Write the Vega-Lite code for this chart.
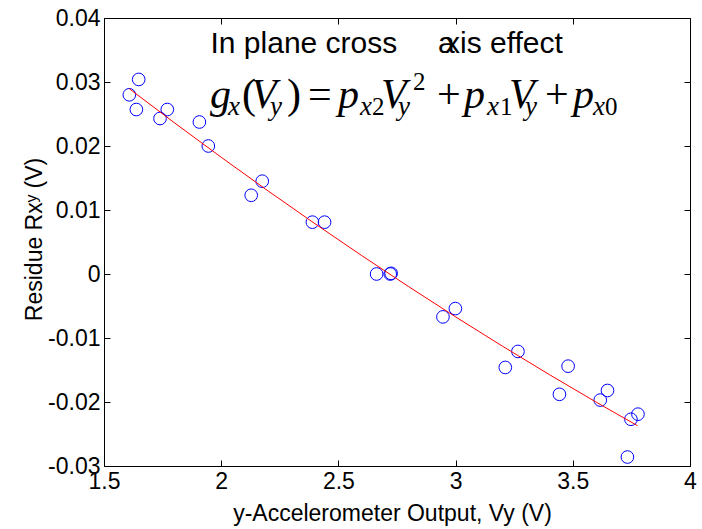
{
  "$schema": "https://vega.github.io/schema/vega-lite/v6.json",
  "autosize": {"type": "none"},
  "padding": {"left": 104, "top": 18, "right": 12, "bottom": 63},
  "width": 586,
  "height": 448,
  "background": "white",
  "config": {
    "view": {"stroke": null},
    "axis": {
      "grid": false,
      "domainColor": "black",
      "domainWidth": 1,
      "tickColor": "black",
      "tickWidth": 1,
      "tickSize": -6,
      "labelFlush": false,
      "labelOverlap": false,
      "labelColor": "black",
      "titleColor": "black",
      "labelFont": "Liberation Sans",
      "titleFont": "Liberation Sans",
      "labelFontSize": 23,
      "titleFontSize": 23,
      "titleFontWeight": "normal",
      "labelPadding": 10
    }
  },
  "datasets": {
    "points": [
      {"vy": 1.608, "r": 0.0280},
      {"vy": 1.648, "r": 0.0304},
      {"vy": 1.638, "r": 0.0257},
      {"vy": 1.739, "r": 0.0243},
      {"vy": 1.770, "r": 0.0257},
      {"vy": 1.907, "r": 0.02375},
      {"vy": 1.945, "r": 0.0200},
      {"vy": 2.128, "r": 0.0123},
      {"vy": 2.175, "r": 0.0145},
      {"vy": 2.389, "r": 0.0081},
      {"vy": 2.441, "r": 0.0081},
      {"vy": 2.663, "r": 0.0000},
      {"vy": 2.721, "r": 0.0000},
      {"vy": 2.725, "r": 0.0001},
      {"vy": 2.946, "r": -0.0067},
      {"vy": 2.999, "r": -0.0054},
      {"vy": 3.212, "r": -0.0146},
      {"vy": 3.266, "r": -0.0121},
      {"vy": 3.443, "r": -0.0188},
      {"vy": 3.480, "r": -0.0144},
      {"vy": 3.617, "r": -0.0197},
      {"vy": 3.648, "r": -0.0182},
      {"vy": 3.733, "r": -0.0286},
      {"vy": 3.748, "r": -0.0227},
      {"vy": 3.778, "r": -0.0219}
    ],
    "fit": [
      {"vy": 1.608, "r": 0.02895},
      {"vy": 1.8, "r": 0.02364},
      {"vy": 2.0, "r": 0.01824},
      {"vy": 2.2, "r": 0.01298},
      {"vy": 2.4, "r": 0.00786},
      {"vy": 2.6, "r": 0.00287},
      {"vy": 2.8, "r": -0.00198},
      {"vy": 3.0, "r": -0.00670},
      {"vy": 3.2, "r": -0.01128},
      {"vy": 3.4, "r": -0.01572},
      {"vy": 3.6, "r": -0.02003},
      {"vy": 3.776, "r": -0.0237}
    ],
    "title": [
      {"vy": 1.9544, "r": 0.034484, "t": "In plane cross"},
      {"vy": 2.9249, "r": 0.034484, "t": "a"},
      {"vy": 2.9548, "r": 0.034484, "t": "xis effect"}
    ],
    "eqItal": [
      {"vy": 1.9522, "r": 0.025938, "t": "g"},
      {"vy": 2.1271, "r": 0.025938, "t": "V"},
      {"vy": 2.4983, "r": 0.025938, "t": "p"},
      {"vy": 2.6817, "r": 0.025938, "t": "V"},
      {"vy": 3.0358, "r": 0.025938, "t": "p"},
      {"vy": 3.2278, "r": 0.025938, "t": "V"},
      {"vy": 3.5009, "r": 0.025938, "t": "p"}
    ],
    "eqRoman": [
      {"vy": 2.0887, "r": 0.025938, "t": "("},
      {"vy": 2.2807, "r": 0.025938, "t": ")"},
      {"vy": 2.3703, "r": 0.025938, "t": "="},
      {"vy": 2.9206, "r": 0.025938, "t": "+"},
      {"vy": 3.3814, "r": 0.025938, "t": "+"}
    ],
    "subItal": [
      {"vy": 2.0290, "r": 0.024844, "t": "x"},
      {"vy": 2.2082, "r": 0.024844, "t": "y"},
      {"vy": 2.5922, "r": 0.024844, "t": "x"},
      {"vy": 2.7543, "r": 0.024844, "t": "y"},
      {"vy": 3.1340, "r": 0.024844, "t": "x"},
      {"vy": 3.2961, "r": 0.024844, "t": "y"},
      {"vy": 3.5862, "r": 0.024844, "t": "x"}
    ],
    "subRoman": [
      {"vy": 2.6433, "r": 0.024844, "t": "2"},
      {"vy": 3.1894, "r": 0.024844, "t": "1"},
      {"vy": 3.6374, "r": 0.024844, "t": "0"},
      {"vy": 2.8183, "r": 0.02875, "t": "2"}
    ]
  },
  "layer": [
    {
      "data": {"name": "points"},
      "mark": {"type": "point", "shape": "circle", "filled": false, "stroke": "#0000ff", "strokeWidth": 1, "size": 160, "opacity": 1},
      "encoding": {
        "x": {"field": "vy", "type": "quantitative", "scale": {"domain": [1.5, 4], "nice": false, "zero": false},
          "axis": {"orient": "bottom", "values": [1.5, 2, 2.5, 3, 3.5, 4], "labelExpr": "'' + datum.value", "title": "y-Accelerometer Output, Vy (V)", "titleBaseline": "alphabetic", "titleY": 54, "titleX": 288}},
        "y": {"field": "r", "type": "quantitative", "scale": {"domain": [-0.03, 0.04], "nice": false, "zero": false},
          "axis": {"orient": "left", "values": [-0.03, -0.02, -0.01, 0, 0.01, 0.02, 0.03, 0.04], "labelExpr": "'' + datum.value", "title": "Residue Rxʸ (V)", "titleBaseline": "alphabetic", "titleX": -63, "titleY": 221, "titleAngle": -90}}
      }
    },
    {
      "data": {"name": "fit"},
      "mark": {"type": "line", "color": "#ff0000", "strokeWidth": 1},
      "encoding": {
        "x": {"field": "vy", "type": "quantitative", "scale": {"domain": [1.5, 4], "nice": false, "zero": false},
          "axis": {"orient": "top", "values": [1.5, 2, 2.5, 3, 3.5, 4], "labels": false, "title": null}},
        "y": {"field": "r", "type": "quantitative", "scale": {"domain": [-0.03, 0.04], "nice": false, "zero": false},
          "axis": {"orient": "right", "values": [-0.03, -0.02, -0.01, 0, 0.01, 0.02, 0.03, 0.04], "labels": false, "title": null}}
      }
    },
    {
      "data": {"name": "title"},
      "mark": {"type": "text", "font": "Liberation Sans", "fontSize": 30, "align": "left", "baseline": "alphabetic", "color": "black"},
      "encoding": {
        "x": {"field": "vy", "type": "quantitative", "scale": {"domain": [1.5, 4], "nice": false, "zero": false}, "axis": null},
        "y": {"field": "r", "type": "quantitative", "scale": {"domain": [-0.03, 0.04], "nice": false, "zero": false}, "axis": null},
        "text": {"field": "t"}
      }
    },
    {
      "data": {"name": "eqItal"},
      "mark": {"type": "text", "font": "Liberation Serif", "fontSize": 42, "fontStyle": "italic", "align": "left", "baseline": "alphabetic", "color": "black"},
      "encoding": {
        "x": {"field": "vy", "type": "quantitative", "scale": {"domain": [1.5, 4], "nice": false, "zero": false}, "axis": null},
        "y": {"field": "r", "type": "quantitative", "scale": {"domain": [-0.03, 0.04], "nice": false, "zero": false}, "axis": null},
        "text": {"field": "t"}
      }
    },
    {
      "data": {"name": "eqRoman"},
      "mark": {"type": "text", "font": "Liberation Serif", "fontSize": 42, "fontStyle": "normal", "align": "left", "baseline": "alphabetic", "color": "black"},
      "encoding": {
        "x": {"field": "vy", "type": "quantitative", "scale": {"domain": [1.5, 4], "nice": false, "zero": false}, "axis": null},
        "y": {"field": "r", "type": "quantitative", "scale": {"domain": [-0.03, 0.04], "nice": false, "zero": false}, "axis": null},
        "text": {"field": "t"}
      }
    },
    {
      "data": {"name": "subItal"},
      "mark": {"type": "text", "font": "Liberation Serif", "fontSize": 27, "fontStyle": "italic", "align": "left", "baseline": "alphabetic", "color": "black"},
      "encoding": {
        "x": {"field": "vy", "type": "quantitative", "scale": {"domain": [1.5, 4], "nice": false, "zero": false}, "axis": null},
        "y": {"field": "r", "type": "quantitative", "scale": {"domain": [-0.03, 0.04], "nice": false, "zero": false}, "axis": null},
        "text": {"field": "t"}
      }
    },
    {
      "data": {"name": "subRoman"},
      "mark": {"type": "text", "font": "Liberation Serif", "fontSize": 25, "fontStyle": "normal", "align": "left", "baseline": "alphabetic", "color": "black"},
      "encoding": {
        "x": {"field": "vy", "type": "quantitative", "scale": {"domain": [1.5, 4], "nice": false, "zero": false}, "axis": null},
        "y": {"field": "r", "type": "quantitative", "scale": {"domain": [-0.03, 0.04], "nice": false, "zero": false}, "axis": null},
        "text": {"field": "t"}
      }
    }
  ],
  "resolve": {"axis": {"x": "independent", "y": "independent"}}
}
